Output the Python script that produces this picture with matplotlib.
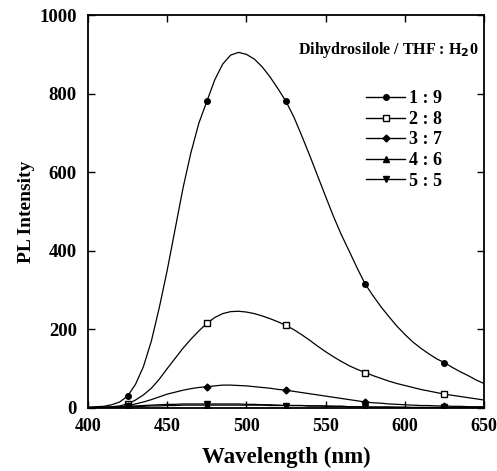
import matplotlib
matplotlib.use("Agg")
import matplotlib.pyplot as plt
from matplotlib.ticker import MultipleLocator

plt.rcParams['font.family'] = ['Liberation Serif', 'DejaVu Serif']
plt.rcParams['font.weight'] = 'bold'

# wavelengths of the curve samples (nm), every 5 nm
wl = list(range(400, 655, 5))

r19 = [2, 3, 4, 8, 15, 30, 60, 105, 170, 255,
       350, 455, 560, 650, 725, 780, 835, 875, 898, 905,
       900, 888, 868, 842, 812, 780, 740, 692, 642, 590,
       538, 487, 440, 398, 355, 315, 285, 257, 232, 208,
       187, 168, 152, 138, 125, 115, 103, 92, 82, 71, 62]
r28 = [1, 1, 2, 3, 5, 10, 20, 33, 50, 73,
       100, 126, 152, 175, 196, 215, 230, 240, 245, 246,
       244, 240, 234, 227, 219, 210, 199, 186, 172, 157,
       143, 130, 118, 107, 98, 90, 82, 75, 68, 62,
       57, 52, 47, 43, 39, 35, 32, 29, 26, 23, 20]
r37 = [0, 0, 1, 2, 3, 5, 10, 15, 21, 28,
       35, 40, 45, 49, 52, 54, 56, 58, 58, 57,
       56, 54, 52, 50, 47, 45, 42, 39, 36, 33,
       30, 27, 24, 21, 18, 15, 13, 12, 10, 9,
       8, 7, 6, 6, 5, 5, 4, 4, 3, 3, 3]
r46 = [0, 0, 0, 1, 1, 2, 3, 4, 5, 5,
       6, 6, 7, 7, 7, 7, 7, 7, 7, 7,
       7, 7, 7, 6, 6, 6, 6, 6, 5, 5,
       5, 4, 4, 3, 3, 2, 2, 2, 2, 1,
       1, 1, 1, 1, 1, 1, 1, 1, 0, 0, 0]
r55 = [0, 0, 1, 1, 2, 4, 5, 6, 7, 8,
       9, 9, 10, 10, 10, 10, 10, 10, 10, 10,
       9, 9, 8, 8, 7, 6, 6, 6, 5, 5,
       4, 4, 4, 3, 3, 3, 2, 2, 2, 2,
       2, 1, 1, 1, 1, 1, 1, 1, 1, 1, 1]

# marker positions
mk_wl = [425, 475, 525, 575, 625]

labels = ["1 : 9", "2 : 8", "3 : 7", "4 : 6", "5 : 5"]
series = [r19, r28, r37, r46, r55]
markers = ['o', 's', 'D', '^', 'v']
msizes = [4, 5, 3.5, 5, 5]
faces = ['black', 'white', 'black', 'black', 'black']

fig = plt.figure(figsize=(4.97, 4.71), dpi=100)
ax = fig.add_axes([0.177, 0.134, 0.797, 0.834])

for ys, lab, m, ms, fc in zip(series, labels, markers, msizes, faces):
    mk_y = [ys[wl.index(w)] for w in mk_wl]
    ax.plot(wl, ys, color='black', lw=0.9)
    ax.plot(mk_wl, mk_y, ls='none', marker=m, ms=ms, mfc=fc, mec='black', mew=1)
    ax.plot([], [], color='black', lw=1, marker=m, ms=ms, mfc=fc, mec='black', label=lab)

ax.set_xlim(400, 650)
ax.set_ylim(0, 1000)
ax.xaxis.set_major_locator(MultipleLocator(50))
ax.yaxis.set_major_locator(MultipleLocator(200))
ax.tick_params(direction='in', top=True, right=True, length=5, width=1, labelsize=13.5)
ax.tick_params(axis='x', pad=7, labelsize=13)
ax.tick_params(axis='y', pad=8)
for lbl in ax.get_xticklabels() + ax.get_yticklabels():
    lbl.set_fontweight('bold')
for s in ax.spines.values():
    s.set_linewidth(1.3)

ax.set_xlabel("Wavelength (nm)", fontsize=16.5, fontweight='bold', labelpad=9)
ax.set_ylabel("PL Intensity", fontsize=14, fontweight='bold', labelpad=3)

ax.text(0.985, 0.91, "Dihydrosilole / THF : H$_\\mathbf{2}$0", transform=ax.transAxes,
        ha='right', va='center', fontsize=11.5, fontweight='bold')

leg = ax.legend(loc='upper left', bbox_to_anchor=(0.66, 0.85), frameon=False,
                handlelength=2.2, handletextpad=0.2, labelspacing=0.2,
                prop={'weight': 'bold', 'size': 13})

fig.savefig("out.png", dpi=100)
